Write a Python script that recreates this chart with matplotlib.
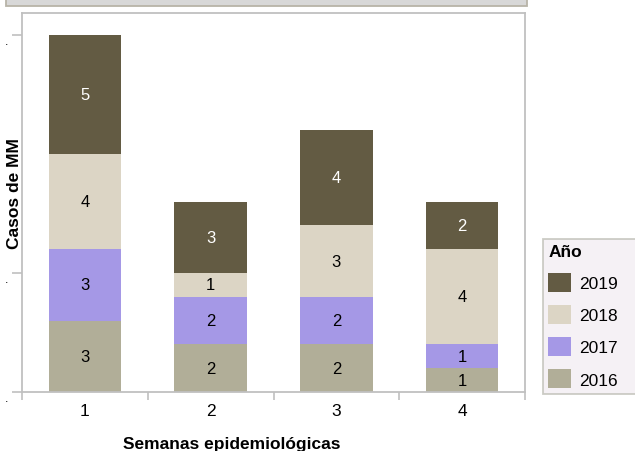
import numpy as np
import matplotlib
matplotlib.use("Agg")
import matplotlib.pyplot as plt
from matplotlib.patches import Rectangle

semanas = ["1", "2", "3", "4"]
anios = ["2016", "2017", "2018", "2019"]
casos_2016 = [3, 2, 2, 1]
casos_2017 = [3, 2, 2, 1]
casos_2018 = [4, 1, 3, 4]
casos_2019 = [5, 3, 4, 2]
series = [casos_2016, casos_2017, casos_2018, casos_2019]
colores = ["#b1ae98", "#a598e6", "#dcd5c5", "#635b43"]
texto_col = ["black", "black", "black", "white"]
yticks = [0, 5, 15]

plt.rcParams['font.family'] = ['Liberation Sans', 'DejaVu Sans']

W, H = 635, 452
fig = plt.figure(figsize=(W / 100, H / 100), dpi=100)
ax = fig.add_axes([22 / W, 1 - 393 / H, (525 - 22) / W, (393 - 14) / H])

x = np.arange(len(semanas))
bottom = np.zeros(len(semanas))
bars = []
for vals, col, tc in zip(series, colores, texto_col):
    b = ax.bar(x, vals, width=0.575, bottom=bottom, color=col, linewidth=0)
    bars.append(b)
    for xi, v, bt in zip(x, vals, bottom):
        ax.text(xi, bt + v / 2, str(v), ha="center", va="center", fontsize=12, color=tc)
    bottom = bottom + np.array(vals)

ax.set_xlim(-0.5, 3.5)
ax.set_ylim(0, 15.92)
ax.set_yticks(yticks)
ax.set_yticklabels(["."] * len(yticks), fontsize=9, va="top")
ax.set_xticks(np.arange(-0.5, 4, 1))
ax.set_xticklabels([])
ax.set_xticks(x, minor=True)
ax.set_xticklabels(semanas, minor=True, fontsize=12.5)
ax.tick_params(axis="x", which="minor", length=0, pad=8)
ax.tick_params(axis="x", which="major", length=6, color="#c0c0c0", width=1.2)
ax.tick_params(axis="y", length=7, color="#c0c0c0", width=1.2, pad=3)
for s in ax.spines.values():
    s.set_color("#c0c0c0")
    s.set_linewidth(1.3)

fig.text(14.5 / W, 1 - 194 / H, "Casos de MM", rotation=90, ha="center", va="center",
         fontsize=12.5, fontweight="bold")
fig.text(232 / W, 1 - 449 / H, "Semanas epidemiológicas", ha="center", va="baseline",
         fontsize=12.5, fontweight="bold")

handles = [bars[i] for i in [3, 2, 1, 0]]
labels = [anios[i] for i in [3, 2, 1, 0]]
leg = fig.legend(handles, labels, title="Año", loc="upper left", mode="expand",
                 bbox_to_anchor=(543 / W, 1 - 240 / H, 110 / W, 0), fontsize=12.5,
                 title_fontproperties={"weight": "bold", "size": 12.5},
                 frameon=True, fancybox=False, handlelength=1.3, handleheight=1.3,
                 handletextpad=0.5, labelspacing=0.77, borderpad=0.3, borderaxespad=0)
leg._legend_box.align = "left"
leg.get_frame().set_facecolor("#f3eef3")
leg.get_frame().set_edgecolor("#c0c0b8")
leg.get_frame().set_linewidth(1.3)

fig.patches.append(Rectangle((6 / W, 1 - 7 / H), 521 / W, 8 / H, transform=fig.transFigure,
                             facecolor="#d8d8d8", edgecolor="#b8b4a8", linewidth=1.3))

fig.savefig("out.png", dpi=100)
